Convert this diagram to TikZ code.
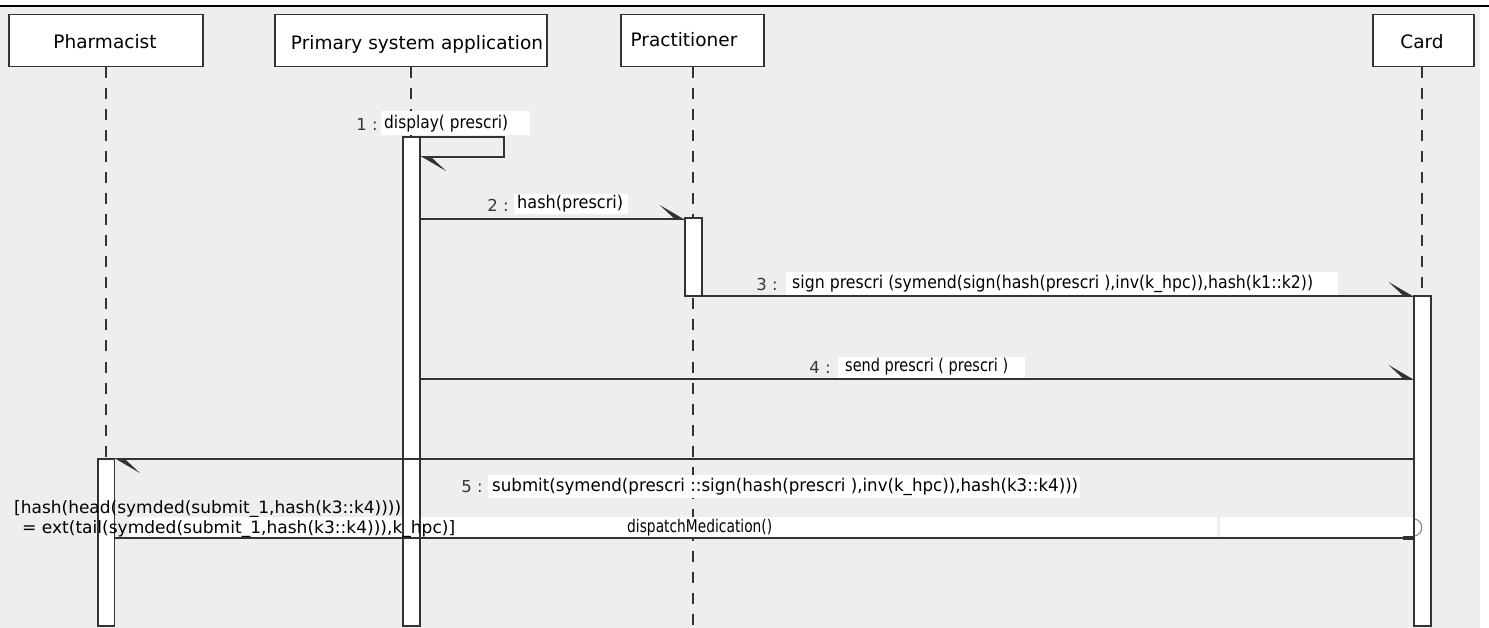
\documentclass[tikz,border=0pt]{standalone}
\usepackage{fontspec}
\setmainfont{DejaVu Sans}
\usetikzlibrary{arrows.meta}
\definecolor{bgc}{HTML}{EEEEEE}
\definecolor{ln}{HTML}{333333}
\definecolor{numc}{HTML}{383838}
\newcommand{\fitw}[2]{\resizebox{#1pt}{\height}{#2}}
\begin{document}
\begin{tikzpicture}[x=1pt,y=-1pt,
  hdr/.style={draw=ln, line width=1.5pt, fill=white, inner sep=0pt},
  actbox/.style={draw=ln, line width=1.4pt, fill=white},
  lifeln/.style={draw=ln, line width=1.4pt, dash pattern=on 11pt off 10pt},
  msg/.style={draw=ln, line width=1.6pt},
  harp/.style={-{Stealth[harpoon,length=24pt,width=28pt,inset=15pt]}},
  hdrtxt/.style={font=\fontsize{18.5}{22}\selectfont, inner sep=0pt, anchor=base},
  lbltxt/.style={font=\fontsize{17.5}{20}\selectfont, inner sep=0pt, anchor=west},
  numtxt/.style={font=\fontsize{16.5}{19}\selectfont, text=numc, inner sep=0pt},
  grdtxt/.style={font=\fontsize{17}{20}\selectfont, inner sep=0pt, anchor=west}
]
\useasboundingbox (0,0) rectangle (1489,628);
% background
\fill[white] (0,0) rectangle (1489,628);
\fill[bgc] (0,7) rectangle (1480,628);
\draw[line width=2pt, black] (0,6) -- (1489,6);

% header boxes
\node[hdr, anchor=north west, minimum width=194pt, minimum height=52pt] (phb) at (8,14) {};
\node[hdr, anchor=north west, minimum width=272pt, minimum height=52pt] (psb) at (274,14) {};
\node[hdr, anchor=north west, minimum width=143pt, minimum height=52pt] (prb) at (620,14) {};
\node[hdr, anchor=north west, minimum width=101pt, minimum height=52pt] (cdb) at (1372,14) {};

% lifelines
\coordinate (phE) at (106,628);
\coordinate (psE) at (411,628);
\coordinate (prE) at (693,628);
\coordinate (cdE) at (1422,628);
\draw[lifeln] (phb.south -| phE) -- (phE);
\draw[lifeln] (psb.south -| psE) -- (psE);
\draw[lifeln] (prb.south -| prE) -- (prE);
\draw[lifeln] (cdb.south -| cdE) -- (cdE);

% header texts
\node[hdrtxt] (pht) at (105,49) {Pharmacist};
\node[hdrtxt] (pst) at (417,50) {Primary system application};
\node[hdrtxt] (prt) at (684,47) {Practitioner};
\node[hdrtxt] (cdt) at (1422,49) {Card};

% label backgrounds
\fill[white] (381,111) rectangle (530,135);
\fill[white] (514,194) rectangle (628,214);
\fill[white] (786,272) rectangle (1338,295);
\fill[white] (838,357) rectangle (1025,378);
\fill[white] (488,475) rectangle (1080,498);
\fill[white] (130,517) rectangle (1217,537);
\fill[white] (1220,517) rectangle (1413,537);

% activations
\draw[actbox] (98,459) rectangle (114.5,626);
\draw[actbox] (403,137) rectangle (420,626);
\draw[actbox] (685,218) rectangle (702,296);
\draw[actbox] (1414,296) rectangle (1431,626);

% message end points
\coordinate (m1a) at (420,137);
\coordinate (m1b) at (504,137);
\coordinate (m1c) at (504,157);
\coordinate (m1d) at (420.7,157);
\coordinate (m2a) at (420,219);
\coordinate (m2b) at (685,219);
\coordinate (m3a) at (702,296);
\coordinate (m3b) at (1414,296);
\coordinate (m4a) at (420,379);
\coordinate (m4b) at (1414,379);
\coordinate (m5a) at (1414,459);
\coordinate (m5b) at (114.5,459);
\coordinate (m6a) at (114.5,538);
\coordinate (m6b) at (1414,538);

% messages
\draw[msg, harp] (m1a) -- (m1b) -- (m1c) -- (m1d);
\draw[msg, harp] (m2a) -- (m2b);
\draw[msg, harp] (m3a) -- (m3b);
\draw[msg, harp] (m4a) -- (m4b);
\draw[msg, harp] (m5a) -- (m5b);
\draw[msg, -{Rectangle[length=11pt,width=3.4pt]}] (m6a) -- (m6b);
\draw[gray, line width=1pt] (1415,519) .. controls (1424,521) and (1424,534) .. (1415,536);

% labels
\node[numtxt] (n1) at (367,124) {1 :};
\node[lbltxt] (l1) at (384,124) {\fitw{124}{display( prescri)}};
\node[numtxt] (n2) at (498,205) {2 :};
\node[lbltxt] (l2) at (517,204) {\fitw{106}{hash(prescri)}};
\node[numtxt] (n3) at (767,284) {3 :};
\node[lbltxt] (l3) at (792,284) {\fitw{521}{sign prescri (symend(sign(hash(prescri ),inv(k\_hpc)),hash(k1::k2))}};
\node[numtxt] (n4) at (820,367) {4 :};
\node[lbltxt] (l4) at (845,367) {\fitw{163}{send prescri ( prescri )}};
\node[numtxt] (n5) at (472,487) {5 :};
\node[lbltxt] (l5) at (492,487) {\fitw{586}{submit(symend(prescri ::sign(hash(prescri ),inv(k\_hpc)),hash(k3::k4)))}};
\node[grdtxt] (g1) at (14,509) {\fitw{387}{[hash(head(symded(submit\_1,hash(k3::k4))))}};
\node[grdtxt] (g2) at (22,529) {\fitw{433}{= ext(tail(symded(submit\_1,hash(k3::k4))),k\_hpc)]}};
\node[lbltxt] (l6) at (627,528) {\fitw{145}{dispatchMedication()}};
\end{tikzpicture}
\end{document}
